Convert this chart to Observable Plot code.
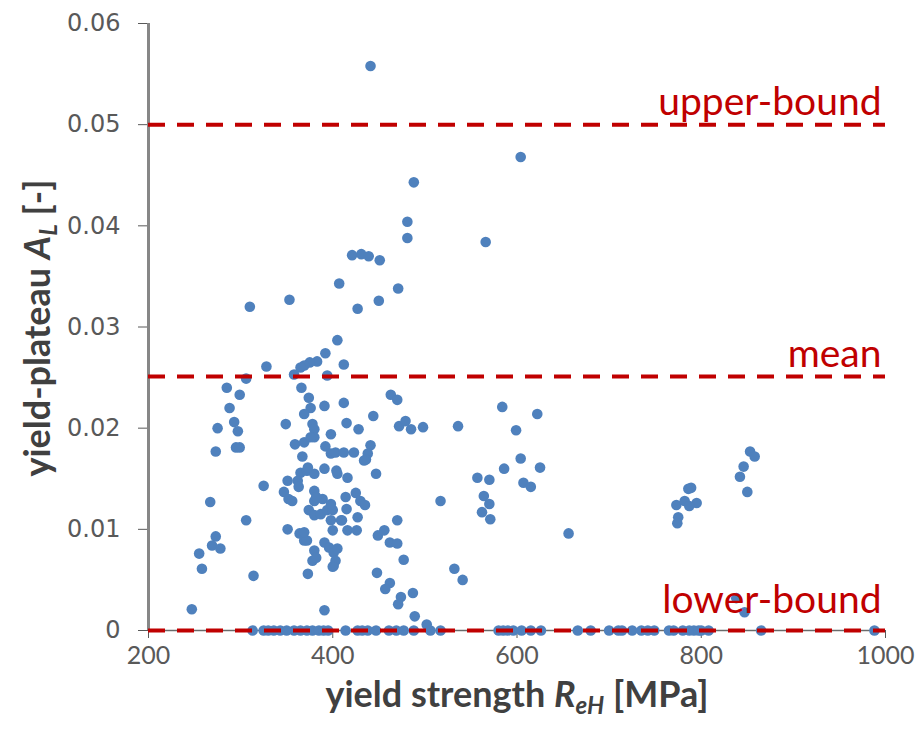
<!DOCTYPE html>
<html>
<head>
<meta charset="utf-8">
<script src="https://cdn.jsdelivr.net/npm/d3@7"></script>
<script src="https://cdn.jsdelivr.net/npm/@observablehq/plot@0.6"></script>
<style>
  html, body { margin: 0; padding: 0; background: #fff; }
  #chart { width: 920px; height: 742px; }
</style>
</head>
<body>
<div id="chart"></div>
<script>
// yield strength R_eH [MPa] of specimens with a non-zero yield plateau
const strength = [441,604,488,481,481,421,431,439,451,566,407,471,310,353,427,450,405,392,383,375,369,365,412,328,358,306,394,285,299,366,374,288,391,376,369,293,275,297,349,378,380,380,398,273,295,299,359,369,376,367,392,398,403,391,365,372,380,405,463,470,412,444,415,472,479,485,498,536,428,441,438,436,412,423,404,416,447,557,570,584,622,599,604,586,625,607,615,564,570,562,571,853,858,846,842,850,786,789,773,782,795,787,775,774,656,838,847,414,425,430,435,415,427,410,416,426,470,517,449,456,462,470,477,448,462,457,532,541,487,474,471,489,502,391,401,373,267,325,306,273,269,278,255,258,314,247,351,362,373,347,352,356,363,380,380,389,374,380,387,394,400,398,400,351,364,369,380,378,391,396,401,403,382,398,409,372,405,382,400,369,434];
// yield plateau A_L [-] for the same specimens
const plateau = [0.0558,0.0468,0.0443,0.0404,0.0388,0.0371,0.0372,0.0370,0.0366,0.0384,0.0343,0.0338,0.0320,0.0327,0.0318,0.0326,0.0287,0.0274,0.0266,0.0265,0.0262,0.0260,0.0263,0.0261,0.0253,0.0249,0.0252,0.0240,0.0233,0.0240,0.0230,0.0220,0.0222,0.0220,0.0214,0.0206,0.0200,0.0197,0.0204,0.0204,0.0199,0.0191,0.0194,0.0177,0.0181,0.0181,0.0184,0.0186,0.0191,0.0172,0.0182,0.0175,0.0176,0.0160,0.0156,0.0158,0.0155,0.0155,0.0233,0.0228,0.0225,0.0212,0.0205,0.0202,0.0207,0.0199,0.0201,0.0202,0.0199,0.0183,0.0175,0.0169,0.0176,0.0176,0.0158,0.0151,0.0155,0.0151,0.0149,0.0221,0.0214,0.0198,0.0170,0.0160,0.0161,0.0146,0.0142,0.0133,0.0125,0.0117,0.0110,0.0177,0.0172,0.0162,0.0152,0.0137,0.0140,0.0141,0.0124,0.0128,0.0126,0.0123,0.0112,0.0106,0.0096,0.0032,0.0018,0.0132,0.0136,0.0128,0.0124,0.0120,0.0112,0.0109,0.0099,0.0099,0.0109,0.0128,0.0094,0.0099,0.0087,0.0086,0.0070,0.0057,0.0047,0.0041,0.0061,0.0050,0.0037,0.0033,0.0026,0.0014,0.0006,0.0020,0.0064,0.0056,0.0127,0.0143,0.0109,0.0093,0.0084,0.0081,0.0076,0.0061,0.0054,0.0021,0.0148,0.0148,0.0161,0.0137,0.0130,0.0128,0.0142,0.0138,0.0128,0.0130,0.0119,0.0114,0.0115,0.0119,0.0119,0.0109,0.0099,0.0100,0.0096,0.0089,0.0079,0.0069,0.0087,0.0082,0.0077,0.0069,0.0132,0.0125,0.0109,0.0089,0.0081,0.0072,0.0063,0.0097,0.0168];
// yield strength of specimens with no yield plateau (A_L = 0)
const zeroStrength = [313,325,330,336,343,350,358,365,372,378,385,390,395,414,427,432,438,447,461,469,477,488,506,517,580,585,590,596,605,615,626,666,680,700,710,714,725,735,742,749,765,770,780,787,792,797,800,808,865,988];

// reference levels
const boundNames = ["upper-bound", "mean", "lower-bound"];
const boundValues = [0.05, 0.0251, 0];

// axis ticks
const xTicks = [200, 400, 600, 800, 1000];
const yTicks = [0, 0.01, 0.02, 0.03, 0.04, 0.05, 0.06];

const points = strength.map((s, i) => ({s, a: plateau[i]}))
  .concat(zeroStrength.map(s => ({s, a: 0})));
const bounds = boundNames.map((name, i) => ({name, v: boundValues[i]}));

const blue = "#4f81bd";
const red = "#c00000";

const chart = Plot.plot({
  width: 920,
  height: 742,
  marginLeft: 148,
  marginRight: 35,
  marginTop: 23,
  marginBottom: 112,
  style: {fontFamily: "Lato, sans-serif", background: "#fff"},
  x: {domain: [200, 1000]},
  y: {domain: [0, 0.06]},
  marks: [
    Plot.axisX({ticks: xTicks, tickSize: 8, tickPadding: 8, fontSize: 25, fontFamily: "Lato, sans-serif", color: "#595959", label: null, tickFormat: d => String(d)}),
    Plot.axisY({ticks: yTicks, tickSize: 10, tickPadding: 18, fontSize: 24, fontFamily: "DejaVu Sans, sans-serif", color: "#595959", label: null, tickFormat: d => d === 0 ? "0" : d.toFixed(2)}),
    Plot.ruleY([0], {stroke: "#6b6b6b", strokeWidth: 1.5}),
    Plot.ruleX([200], {y1: 0, y2: 0.06, stroke: "#878787", strokeWidth: 3}),
    Plot.dot(points, {x: "s", y: "a", r: 5.3, fill: blue, stroke: null}),
    Plot.ruleY(bounds, {y: "v", x1: 200, x2: 1000, stroke: red, strokeWidth: 4, strokeDasharray: "17,12"}),
    Plot.text(bounds.filter(d => d.v > 0), {x: 1000, y: "v", text: "name", textAnchor: "end", lineAnchor: "bottom", dx: -4, dy: -10, fill: red, fontSize: 39, fontFamily: "Lato, sans-serif"}),
    Plot.text(bounds.filter(d => d.v === 0), {x: 1000, y: "v", text: "name", textAnchor: "end", lineAnchor: "bottom", dx: -4, dy: -18, fill: red, fontSize: 39, fontFamily: "Lato, sans-serif"})
  ]
});

const svg = d3.select(chart);
// x-axis title with italic subscript
const xt = svg.append("text")
  .attr("x", 517).attr("y", 707)
  .attr("text-anchor", "middle")
  .attr("font-family", "Lato, sans-serif").attr("font-weight", "bold")
  .attr("font-size", 36).attr("fill", "#404040");
xt.append("tspan").text("yield strength ");
xt.append("tspan").attr("font-style", "italic").text("R");
xt.append("tspan").attr("font-style", "italic").attr("font-size", 24).attr("dy", 7).text("eH");
xt.append("tspan").attr("dy", -7).text(" [MPa]");

// y-axis title with italic subscript
const yt = svg.append("text")
  .attr("transform", "translate(50,328) rotate(-90)")
  .attr("text-anchor", "middle")
  .attr("font-family", "Lato, sans-serif").attr("font-weight", "bold")
  .attr("font-size", 36).attr("fill", "#404040");
yt.append("tspan").text("yield-plateau ");
yt.append("tspan").attr("font-style", "italic").text("A");
yt.append("tspan").attr("font-style", "italic").attr("font-size", 24).attr("dy", 7).text("L");
yt.append("tspan").attr("dy", -7).text(" [-]");

document.getElementById("chart").appendChild(chart);
</script>
</body>
</html>
